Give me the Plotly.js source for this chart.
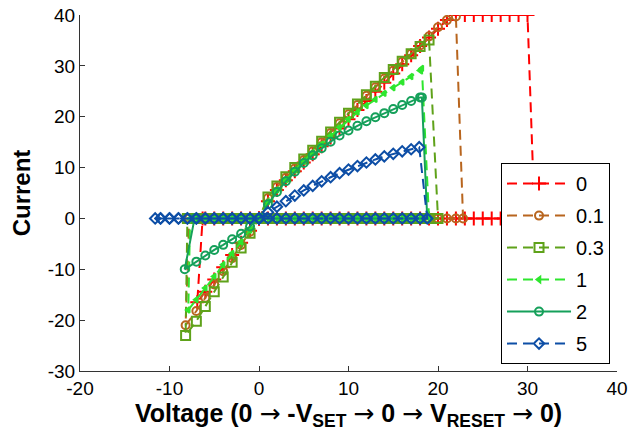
<!DOCTYPE html>
<html>
<head>
<meta charset="utf-8">
<script src="https://cdn.plot.ly/plotly-3.0.1.min.js"></script>
<style>html,body{margin:0;padding:0;background:#fff;}#chart{width:629px;height:439px;}</style>
</head>
<body>
<div id="chart"></div>
<script>
// Series names
const seriesNames = ['0', '0.1', '0.3', '1', '2', '5'];

// Series "0" (red)
const v0 = [0,-1,-2,-3,-4,-5,-6,-6.3,-6.9,-6,-5,-4,-3,-2,-1,0,
  1,2,3,4,5,6,7,8,9,10,11,12,13,14,15,16,17,18,19,20,21,22,23,24,25,26,27,28,29,30,30.8,
  30,29,28,27,26,25,24,23,22,21,20,19,18,17,16,15,14,13,12,11,10,9,8,7,6,5,4,3,2,1,0];
const i0 = [0,0,0,0,0,0,0,0,-16.5,-14.4,-12,-9.6,-7.2,-4.8,-2.4,0,
  3.4,5.6,7.5,9.3,11.0,12.6,14.2,15.9,17.7,19.5,21.3,23.1,24.9,26.7,28.5,30.3,32.1,33.9,35.6,37.3,39.0,40,40,40,40,40,40,40,40,40,0,
  0,0,0,0,0,0,0,0,0,0,0,0,0,0,0,0,0,0,0,0,0,0,0,0,0,0,0,0,0,0,0];

// Series "0.1" (brown)
const v1 = [0,-1,-2,-3,-4,-5,-6,-7,-7.8,-8.2,-7,-6,-5,-4,-3,-2,-1,0,
  1,2,3,4,5,6,7,8,9,10,11,12,13,14,15,16,17,18,19,20,21,22,22.8,
  22,21,20,19,18,17,16,15,14,13,12,11,10,9,8,7,6,5,4,3,2,1,0];
const i1 = [0,0,0,0,0,0,0,0,0,-21,-18.2,-15.6,-13,-10.4,-7.8,-5.2,-2.6,0,
  4.0,6.2,8.0,9.8,11.5,13.2,15.0,16.8,18.7,20.5,22.3,24.1,25.8,27.5,29.1,30.8,32.4,34.0,35.8,37.6,39.0,39.7,0,
  0,0,0,0,0,0,0,0,0,0,0,0,0,0,0,0,0,0,0,0,0,0,0];

// Series "0.3" (olive)
const v2 = [0,-1,-2,-3,-4,-5,-6,-7,-8,-8.2,-7,-6,-5,-4,-3,-2,-1,0,
  1,2,3,4,5,6,7,8,9,10,11,12,13,14,15,16,17,18,19,20,
  19,18,17,16,15,14,13,12,11,10,9,8,7,6,5,4,3,2,1,0];
const i2 = [0,0,0,0,0,0,0,0,0,-23,-20.2,-17.3,-14.4,-11.5,-8.6,-5.8,-2.9,0,
  4.2,6.4,8.2,10.0,11.7,13.4,15.2,17.0,18.9,20.7,22.5,24.3,26.0,27.7,29.3,30.9,32.4,33.8,35.1,0,
  0,0,0,0,0,0,0,0,0,0,0,0,0,0,0,0,0,0,0,0];

// Series "1" (bright green)
const v3 = [0,-1,-2,-3,-4,-5,-6,-7,-7.7,-7.9,-7,-6,-5,-4,-3,-2,-1,0,
  1,2,3,4,5,6,7,8,9,10,11,12,13,14,15,16,17,18,18.2,19,
  18,17,16,15,14,13,12,11,10,9,8,7,6,5,4,3,2,1,0];
const i3 = [0,0,0,0,0,0,0,0,0,-18,-16,-13.7,-11.4,-9.1,-6.9,-4.6,-2.3,0,
  3.3,5.6,7.6,9.5,11.3,13.0,14.6,16.2,17.9,19.5,20.9,22.2,23.4,24.6,25.7,26.8,27.9,29.1,29.5,0,
  0,0,0,0,0,0,0,0,0,0,0,0,0,0,0,0,0,0,0];

// Series "2" (teal)
const v4 = [0,-1,-2,-3,-4,-5,-6,-7,-7.2,-8.3,-7,-6,-5,-4,-3,-2,-1,0,
  1,2,3,4,5,6,7,8,9,10,11,12,13,14,15,16,17,18,18.2,18.8,
  18,17,16,15,14,13,12,11,10,9,8,7,6,5,4,3,2,1,0];
const i4 = [0,0,0,0,0,0,0,0,0,-10,-8.5,-7.3,-6.2,-5.2,-4.1,-3.0,-1.6,0,
  2.8,5.2,7.3,9.2,10.9,12.4,13.8,15.1,16.3,17.3,18.2,19.1,19.9,20.7,21.5,22.3,23.1,23.8,23.8,0,
  0,0,0,0,0,0,0,0,0,0,0,0,0,0,0,0,0,0,0];

// Series "5" (blue)
const v5 = [0,-1,-2,-3,-4,-5,-6,-7,-8,-9,-10,-11,-11.6,-11,-10,-9,-8,-7,-6,-5,-4,-3,-2,-1,0,
  1,2,3,4,5,6,7,8,9,10,11,12,13,14,15,16,17,17.9,18.8,
  18,17,16,15,14,13,12,11,10,9,8,7,6,5,4,3,2,1,0];
const i5 = [0,0,0,0,0,0,0,0,0,0,0,0,0,0,0,0,0,0,0,0,0,0,0,0,0,
  1.2,2.3,3.4,4.5,5.5,6.4,7.3,8.1,8.9,9.6,10.3,11.0,11.6,12.2,12.7,13.2,13.6,14.0,0,
  0,0,0,0,0,0,0,0,0,0,0,0,0,0,0,0,0,0,0];

// Axis ticks
const xTickVals = [-20,-10,0,10,20,30,40];
const xTickText = ['-20','-10','0','10','20','30','40'];
const yTickVals = [-30,-20,-10,0,10,20,30,40];
const yTickText = ['-30','-20','-10','0','10','20','30','40'];

const xs = [v0, v1, v2, v3, v4, v5];
const ys = [i0, i1, i2, i3, i4, i5];
const styles = [
  {color:'#ff0000', dash:'10px,6px', symbol:'cross-thin-open', size:10},
  {color:'#b8651e', dash:'10px,6px', symbol:'circle-open', size:8},
  {color:'#5fa21a', dash:'10px,6px', symbol:'square-open', size:9},
  {color:'#2ee62e', dash:'10px,6px', symbol:'triangle-left', size:5},
  {color:'#15a05a', dash:'solid', symbol:'circle-open', size:8},
  {color:'#0d4ea6', dash:'10px,6px', symbol:'diamond-open', size:8}
];

const traces = seriesNames.map((n, k) => ({
  type:'scatter', mode:'lines+markers', name:n, x:xs[k], y:ys[k],
  legendgroup:'g'+k,
  line:{color:styles[k].color, width:2, dash:styles[k].dash},
  marker:{symbol:styles[k].symbol, size:styles[k].size, color:styles[k].color,
          line:{color:styles[k].color, width:2}}
}));

const fontFam = 'Liberation Sans, Arial, sans-serif';
const arr = '<span style="font-family:DejaVu Sans;font-weight:normal">\u2192</span>';
const layout = {
  width:629, height:439,
  margin:{l:80, r:12, t:15, b:68},
  paper_bgcolor:'#fff', plot_bgcolor:'#fff',
  showlegend:true,
  font:{family:fontFam, color:'#000', size:19},
  xaxis:{range:[-20,40], tickvals:xTickVals, ticktext:xTickText,
    showgrid:false, zeroline:false, showline:true, linecolor:'#333', linewidth:1,
    ticks:'inside', ticklen:5, tickcolor:'#333', tickfont:{size:19, family:fontFam},
    title:{text:'Voltage (0 ' + arr + ' -V<sub>SET</sub> ' + arr + ' 0 ' + arr + ' V<sub>RESET</sub> ' + arr + ' 0)',
      font:{size:25, family:fontFam, weight:'bold'}, standoff:2}},
  yaxis:{range:[-30,40], tickvals:yTickVals, ticktext:yTickText,
    showgrid:false, zeroline:false, showline:true, linecolor:'#333', linewidth:1,
    ticks:'inside', ticklen:5, tickcolor:'#333', tickfont:{size:19, family:fontFam},
    title:{text:'Current', font:{size:24, family:fontFam, weight:'bold'}, standoff:10}},
  legend:{x:0.784, y:0.584, xanchor:'left', yanchor:'top',
    bgcolor:'#fff', bordercolor:'#000', borderwidth:1,
    font:{size:20, family:fontFam}, tracegroupgap:3, itemwidth:64}
};

Plotly.newPlot('chart', traces, layout, {displayModeBar:false, staticPlot:true});
</script>
</body>
</html>
